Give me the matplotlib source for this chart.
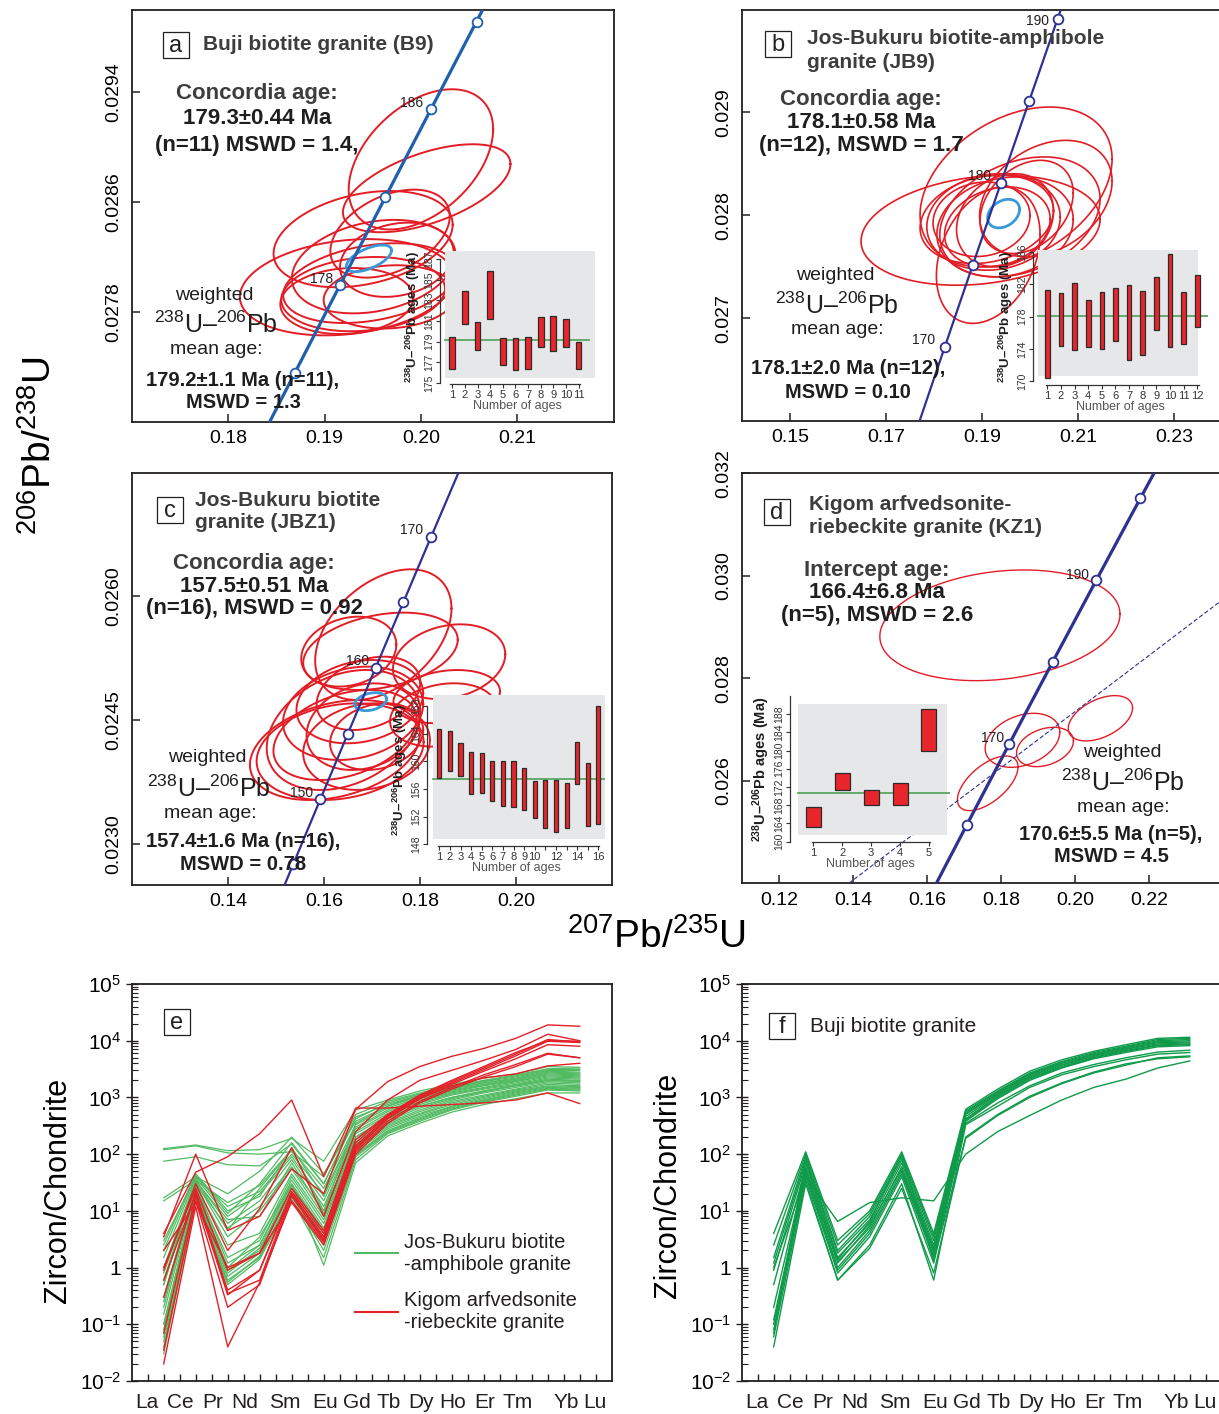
import numpy as np
import matplotlib
matplotlib.use("Agg")
import matplotlib.pyplot as plt
from matplotlib.patches import Rectangle
from matplotlib.ticker import LogLocator, NullFormatter

plt.rcParams['font.family'] = ['Liberation Sans', 'DejaVu Sans']
plt.rcParams['mathtext.fontset'] = 'custom'
plt.rcParams['mathtext.rm'] = 'Liberation Sans'
plt.rcParams['mathtext.it'] = 'Liberation Sans:italic'
plt.rcParams['mathtext.bf'] = 'Liberation Sans:bold'

W, H = 1219, 1414
fig = plt.figure(figsize=(W / 100, H / 100), dpi=100)

# decay constants, 1/Ma
L238 = 1.55125e-4
L235 = 9.8485e-4

RED = '#e21d25'
BLUE_ELL = '#3a9ad9'
GRAY = '#e6e7e8'
BAR = '#e8252b'
MEAN_LINE = '#5aa764'
DARK = '#3d3d3d'
INK = '#1e1e1e'

# ---------------- U-Pb spot ellipses: centre, 2s half-widths, rho ----------------
# (a) Buji biotite granite B9
a_x = [0.2000, 0.2006, 0.1940, 0.1923, 0.1975, 0.1951, 0.1940, 0.1968, 0.1923, 0.1968, 0.1947]
a_y = [0.02891, 0.02870, 0.02833, 0.02798, 0.02818, 0.02813, 0.02793, 0.02791, 0.02788, 0.02837, 0.02801]
a_sx = [0.0075, 0.0087, 0.0093, 0.0111, 0.0059, 0.0085, 0.0085, 0.0069, 0.0069, 0.0062, 0.0090]
a_sy = [0.00051, 0.00032, 0.00035, 0.00035, 0.00027, 0.00034, 0.00027, 0.00023, 0.00024, 0.00032, 0.00029]
a_rho = [0.43, 0.55, 0.30, 0.20, 0.20, 0.25, 0.15, 0.10, 0.10, 0.40, 0.30]
a_conc = (0.1946, 0.02819, 0.00235, 0.000097, 0.6)

# (b) Jos-Bukuru biotite-amphibole granite JB9
b_x = [0.1897, 0.1971, 0.1913, 0.2033, 0.1910, 0.1924, 0.1979, 0.1932, 0.1899, 0.1948, 0.1993, 0.1948]
b_y = [0.027854, 0.028275, 0.027612, 0.028162, 0.027961, 0.027935, 0.027984, 0.027887, 0.027961, 0.027951, 0.028081, 0.027887]
b_sx = [0.0249, 0.0200, 0.0108, 0.0138, 0.0139, 0.0139, 0.0167, 0.0110, 0.0101, 0.0101, 0.0097, 0.0142]
b_sy = [0.000534, 0.000777, 0.000663, 0.000566, 0.000430, 0.000469, 0.000583, 0.000388, 0.000362, 0.000453, 0.000453, 0.000485]
b_rho = [0.20, 0.35, 0.30, 0.30, 0.20, 0.10, 0.30, 0.20, 0.10, 0.20, 0.30, 0.15]
b_conc = (0.1945, 0.028016, 0.00333, 0.000139, 0.3)

# (c) Jos-Bukuru biotite granite JBZ1
c_x = [0.1723, 0.1717, 0.1860, 0.1651, 0.1674, 0.1660, 0.1622, 0.1633,
       0.1640, 0.1681, 0.1709, 0.1855, 0.1643, 0.1688, 0.1848, 0.1692]
c_y = [0.025535, 0.025333, 0.025207, 0.025329, 0.024722, 0.024581, 0.024136, 0.024116,
       0.024379, 0.024419, 0.024298, 0.024783, 0.024318, 0.024177, 0.024561, 0.024823]
c_sx = [0.0142, 0.0161, 0.0117, 0.0099, 0.0132, 0.0146, 0.0177, 0.0174,
        0.0160, 0.0118, 0.0097, 0.0111, 0.0149, 0.0132, 0.0111, 0.0108]
c_sy = [0.000792, 0.000469, 0.000453, 0.000424, 0.000505, 0.000566, 0.000606, 0.000586,
        0.000728, 0.000525, 0.000404, 0.000323, 0.000546, 0.000525, 0.000384, 0.000445]
c_rho = [0.40, 0.30, 0.20, 0.20, 0.20, 0.20, 0.30, 0.20, 0.30, 0.20, 0.20, 0.20, 0.35, 0.15, 0.20, 0.30]
c_conc = (0.16965, 0.024722, 0.00333, 0.000109, 0.3)

# (d) Kigom arfvedsonite-riebeckite granite KZ1
d_x = [0.1797, 0.1858, 0.1919, 0.2069, 0.1764]
d_y = [0.029034, 0.026790, 0.026660, 0.027220, 0.025951]
d_sx = [0.0325, 0.0101, 0.0077, 0.0087, 0.0082]
d_sy = [0.00108, 0.000527, 0.000384, 0.000442, 0.000533]
d_rho = [0.20, 0.30, 0.30, 0.45, 0.60]
d_intercept_age = 166.4
d_disc_slope = 0.0547

# concordia tick ages and labelled ones
a_ages, a_lab = [174, 178, 182, 186, 190], [178, 186]
b_ages, b_lab = [170, 175, 180, 185, 190], [170, 180, 190]
c_ages, c_lab = [145, 150, 155, 160, 165, 170], [150, 160, 170]
d_ages, d_lab = [160, 170, 180, 190, 200], [170, 190]

# ---------------- single-spot 238U-206Pb ages (2s range) ----------------
a_lo = [176.4, 180.7, 178.2, 181.2, 176.7, 176.3, 176.4, 178.5, 178.1, 178.5, 176.4]
a_hi = [179.5, 183.9, 180.9, 185.9, 179.4, 179.4, 179.5, 181.4, 181.5, 181.2, 179.0]
a_wm = 179.2
b_lo = [170.4, 174.4, 173.9, 174.2, 174.0, 175.0, 172.7, 173.3, 176.3, 174.2, 174.6, 176.7]
b_hi = [181.3, 181.0, 182.2, 180.1, 181.1, 181.6, 181.9, 181.2, 182.9, 185.8, 181.1, 183.2]
b_wm = 178.1
c_lo = [157.6, 158.6, 157.8, 155.3, 155.4, 154.2, 153.5, 153.4, 152.9, 151.8, 150.3, 149.8, 150.3, 156.7, 150.6, 151.0]
c_hi = [164.6, 164.4, 162.6, 161.4, 161.2, 160.0, 160.1, 160.0, 159.0, 157.1, 157.3, 157.3, 156.8, 162.8, 159.8, 168.0]
c_wm = 157.4
d_lo = [163.1, 171.4, 168.1, 168.1, 179.9]
d_hi = [167.5, 175.0, 171.4, 172.8, 189.2]
d_wm = 170.6

# ---------------- zircon REE / chondrite ----------------
ree = ['La', 'Ce', 'Pr', 'Nd', 'Sm', 'Eu', 'Gd', 'Tb', 'Dy', 'Ho', 'Er', 'Tm', 'Yb', 'Lu']
ree_lbl_x = [-0.53, 0.53, 1.53, 2.53, 3.78, 5.03, 6.03, 7.03, 8.03, 9.03, 10.03, 11.06, 12.59, 13.47]

jb_ree = [
    [125, 145, 115, 120, 190, 75, 600, 900, 1300, 1700, 2200, 2600, 3500, 3400],
    [120, 140, 105, 100, 110, 40, 500, 850, 1200, 1600, 2000, 2500, 3200, 3300],
    [75, 90, 65, 62, 150, 30, 420, 800, 1150, 1500, 1900, 2300, 3000, 3000],
    [17, 40, 20, 50, 200, 45, 380, 700, 1100, 1450, 1800, 2200, 2900, 2800],
    [15, 35, 14, 28, 120, 25, 330, 650, 1000, 1350, 1700, 2100, 2700, 2600],
    [3.0, 40, 12, 22, 100, 20, 300, 600, 950, 1300, 1650, 2000, 2600, 2500],
    [2.5, 45, 10, 18, 130, 18, 280, 560, 900, 1250, 1600, 1950, 2500, 2400],
    [1.5, 38, 8, 20, 90, 15, 250, 520, 850, 1200, 1500, 1900, 2400, 2300],
    [1.0, 35, 6, 15, 80, 12, 230, 480, 800, 1150, 1450, 1800, 2300, 2200],
    [0.8, 30, 5, 12, 60, 10, 200, 450, 750, 1100, 1400, 1700, 2200, 2100],
    [0.5, 32, 3.5, 10, 55, 8, 180, 420, 700, 1000, 1300, 1650, 2100, 2000],
    [0.3, 28, 2.5, 4, 45, 7, 160, 390, 650, 950, 1250, 1600, 2000, 1900],
    [0.25, 25, 1.5, 3, 40, 6, 150, 360, 600, 900, 1200, 1500, 1900, 1800],
    [0.2, 30, 1.2, 2.5, 35, 5, 140, 340, 560, 850, 1100, 1400, 1800, 1700],
    [0.15, 26, 1.0, 3.5, 30, 4.5, 130, 320, 520, 800, 1050, 1350, 1700, 1600],
    [0.1, 22, 0.9, 2.0, 28, 4, 120, 300, 500, 750, 1000, 1300, 1600, 1550],
    [0.08, 24, 0.8, 2.2, 25, 3.5, 110, 280, 470, 700, 950, 1250, 1550, 1500],
    [0.06, 20, 0.7, 1.8, 22, 3, 100, 260, 440, 680, 900, 1200, 1500, 1450],
    [0.05, 18, 0.6, 1.5, 20, 2.5, 95, 250, 420, 650, 880, 1150, 1450, 1400],
    [0.04, 17, 0.55, 1.6, 18, 2, 90, 240, 400, 620, 850, 1100, 1400, 1350],
    [0.03, 15, 0.5, 1.4, 16, 1.5, 80, 230, 380, 600, 820, 1050, 1350, 1300],
    [0.5, 35, 4.5, 25, 120, 10, 350, 700, 1050, 1400, 1800, 2100, 2800, 2700],
    [2.0, 42, 9, 30, 160, 30, 450, 750, 1100, 1500, 1950, 2400, 3100, 3100],
    [0.6, 33, 7, 8, 70, 9, 200, 450, 700, 1000, 1300, 1600, 2000, 1950],
    [0.1, 20, 0.9, 2.5, 30, 1.1, 70, 210, 350, 550, 750, 950, 1200, 1200],
]

kz_ree = [
    [0.02, 12, 0.04, 0.55, 15, 2.8, 110, 380, 850, 1500, 2500, 3800, 6000, 5000],
    [0.035, 15, 0.2, 0.5, 18, 3.0, 130, 430, 950, 1700, 2900, 4800, 8500, 8000],
    [0.07, 18, 0.33, 0.9, 20, 3.5, 140, 460, 1000, 1800, 3100, 5400, 9800, 9300],
    [0.6, 20, 0.4, 0.9, 22, 4.0, 160, 480, 1050, 1900, 3300, 5800, 10500, 9500],
    [1.0, 25, 0.9, 1.8, 25, 4.5, 180, 500, 1100, 2000, 3500, 6200, 10000, 9800],
    [2.0, 14, 1.0, 1.8, 14, 2.5, 100, 350, 800, 1400, 2300, 3500, 5800, 5000],
    [3.5, 100, 4.5, 8, 55, 20, 620, 1900, 3500, 5300, 7300, 11000, 19000, 18000],
    [4.0, 48, 90, 230, 900, 40, 650, 650, 700, 750, 800, 900, 1200, 780],
    [0.9, 30, 2.0, 11, 130, 8, 250, 900, 2000, 3000, 4500, 7000, 13000, 10000],
    [0.3, 22, 0.35, 0.6, 20, 3.2, 120, 420, 950, 1600, 2200, 2600, 3600, 4000],
]

buji_ree = [
    [4.0, 110, 3.0, 10, 110, 4.0, 620, 1400, 2900, 4600, 6500, 8500, 11000, 11500],
    [2.5, 100, 2.5, 9, 100, 3.5, 580, 1300, 2700, 4300, 6200, 8000, 10500, 11000],
    [1.5, 90, 2.0, 8, 90, 3.0, 550, 1250, 2600, 4100, 5900, 7700, 10000, 10500],
    [1.2, 80, 1.8, 7, 80, 2.5, 520, 1200, 2500, 4000, 5700, 7500, 9600, 10000],
    [0.9, 70, 1.5, 6, 70, 2.2, 500, 1150, 2400, 3800, 5500, 7200, 9200, 9500],
    [0.5, 60, 1.3, 5, 60, 2.0, 460, 1100, 2300, 3700, 5300, 7000, 8800, 9200],
    [0.2, 55, 1.2, 5.5, 55, 1.8, 420, 1050, 2200, 3500, 5100, 6700, 8400, 8800],
    [0.12, 50, 1.0, 4.5, 50, 1.6, 400, 1000, 2100, 3400, 5000, 6500, 8200, 8500],
    [0.1, 45, 0.9, 4, 45, 1.5, 380, 950, 2000, 3300, 4800, 6200, 7800, 8200],
    [0.08, 40, 0.8, 3.5, 40, 1.2, 350, 800, 1600, 2700, 3800, 5000, 6300, 6800],
    [0.06, 35, 0.6, 2.5, 30, 0.6, 330, 700, 1500, 2500, 3500, 4600, 5800, 6200],
    [0.04, 30, 0.6, 2.2, 25, 0.8, 200, 500, 1050, 1800, 2800, 3900, 4800, 5200],
    [1.0, 40, 6.5, 14, 17, 15, 100, 250, 480, 900, 1500, 2100, 3300, 4400],
    [0.07, 75, 1.4, 6.5, 95, 1.3, 190, 480, 1000, 1750, 2700, 3700, 5000, 5400],
]


def px_axes(x0, y0, x1, y1):
    return fig.add_axes([x0 / W, 1 - y1 / H, (x1 - x0) / W, (y1 - y0) / H])


def ftext(x, y, s, **kw):
    fig.text(x / W, 1 - y / H, s, **kw)


def letter_box(x0, y0, x1, y1, s):
    fig.add_artist(Rectangle((x0 / W, 1 - y1 / H), (x1 - x0) / W, (y1 - y0) / H,
                             transform=fig.transFigure, fill=False, lw=0.9, ec='#231f20'))
    ftext((x0 + x1) / 2, (y0 + y1) / 2 + 1, s, ha='center', va='center', fontsize=17, color='#231f20')


def concordia(t):
    t = np.asarray(t, float)
    return np.expm1(L235 * t), np.expm1(L238 * t)


def ell_xy(x, y, sx, sy, rho):
    th = np.linspace(0, 2 * np.pi, 181)
    return x + sx * np.cos(th), y + sy * (rho * np.cos(th) + np.sqrt(1 - rho ** 2) * np.sin(th))


def conc_panel(box, xlim, ylim, xticks, yticks, yfmt, ell, conc_ell, ages, lab_ages,
               line_col, line_w, ell_w, lab_off):
    ax = px_axes(*box)
    ax.set_xlim(xlim)
    ax.set_ylim(ylim)
    for x, y, sx, sy, r in zip(*ell):
        ex, ey = ell_xy(x, y, sx, sy, r)
        ax.plot(ex, ey, color=RED, lw=ell_w, zorder=2)
    if conc_ell is not None:
        ex, ey = ell_xy(*conc_ell)
        ax.plot(ex, ey, color=BLUE_ELL, lw=2.0, zorder=3)
    cx, cy = concordia(np.linspace(80, 280, 400))
    ax.plot(cx, cy, color=line_col, lw=line_w, zorder=4)
    mx, my = concordia(ages)
    ax.plot(mx, my, 'o', ms=7, mfc='white', mec=line_col, mew=1.3, zorder=5)
    for t in lab_ages:
        px_, py_ = concordia(t)
        off = lab_off.get(t, (-19, 6))
        ax.annotate(str(t), (px_, py_), xytext=off, textcoords='offset pixels',
                    ha='center', va='center', fontsize=10, color='#231f20', zorder=6)
    ax.set_xticks(xticks)
    ax.set_xticklabels(['%.2f' % v for v in xticks])
    ax.set_yticks(yticks)
    ax.set_yticklabels([yfmt % v for v in yticks], rotation=90, va='center')
    ax.tick_params(direction='in', length=6, width=1.1, labelsize=14, color='#231f20')
    ax.tick_params(axis='x', pad=6)
    ax.tick_params(axis='y', pad=7)
    for s in ax.spines.values():
        s.set_linewidth(1.3)
        s.set_color('#231f20')
    return ax


def age_inset(box, xlim, ylim, gray, lo, hi, wm, bar_w, yticks, xticks, xlabels,
              ybounds, xbounds, line_x, ylab_size=9.5):
    ax = px_axes(*box)
    ax.patch.set_visible(False)
    ax.set_xlim(xlim)
    ax.set_ylim(ylim)
    gx0, gx1, gy0, gy1 = gray
    ax.add_patch(Rectangle((gx0, gy0), gx1 - gx0, gy1 - gy0, fc=GRAY, ec='none', zorder=0))
    n = np.arange(1, len(lo) + 1)
    ax.bar(n, np.subtract(hi, lo), bottom=lo, width=bar_w, color=BAR,
           edgecolor='#2b2b2b', lw=0.9, zorder=2)
    ax.plot(line_x, [wm, wm], color=MEAN_LINE, lw=1.3, zorder=1)
    for s in ('top', 'right'):
        ax.spines[s].set_visible(False)
    ax.spines['left'].set_bounds(*ybounds)
    ax.spines['bottom'].set_bounds(*xbounds)
    for s in ('left', 'bottom'):
        ax.spines[s].set_linewidth(0.9)
        ax.spines[s].set_color('#333333')
    ax.set_yticks(yticks)
    ax.set_yticklabels([str(v) for v in yticks], rotation=90, va='center')
    ax.set_xticks(xticks)
    ax.set_xticklabels(xlabels)
    ax.tick_params(axis='y', direction='out', length=3, width=0.8, labelsize=7.5, pad=1, colors='#333333')
    ax.tick_params(axis='x', direction='out', length=3, width=0.8, labelsize=8, pad=1, colors='#333333')
    ax.set_ylabel(r'$^{\mathbf{238}}$U–$^{\mathbf{206}}$Pb ages (Ma)', fontsize=ylab_size,
                  fontweight='bold', labelpad=2, color='#1e1e1e')
    ax.set_xlabel('Number of ages', fontsize=9, labelpad=0, color='#555555')
    return ax


def txt_bold(x, y, s, size=16, color=INK):
    ftext(x, y, s, ha='center', va='center', fontsize=size, fontweight='bold', color=color)


def txt(x, y, s, size=14):
    ftext(x, y, s, ha='center', va='center', fontsize=size, color='#1e1e1e')


# ---------------- (a) ----------------
conc_panel((132, 9.5, 613.5, 422), (0.17, 0.22), (0.0270, 0.0300),
           [0.18, 0.19, 0.20, 0.21], [0.0278, 0.0286, 0.0294], '%.4f',
           (a_x, a_y, a_sx, a_sy, a_rho), a_conc, a_ages, a_lab,
           '#1f5fae', 2.3, 1.4, {})
age_inset((440, 251, 595, 384), (0.03, 12.3), (174.9, 187.8), (0.42, 12.3, 175.5, 187.8),
          a_lo, a_hi, a_wm, 0.45, list(range(175, 188, 2)), list(range(1, 12)),
          [str(v) for v in range(1, 12)], (175, 187), (0.85, 11.1), [0.42, 11.8])
letter_box(163, 32, 189, 58, 'a')
ftext(203, 45, 'Buji biotite granite (B9)', ha='left', va='center', fontsize=15,
      fontweight='bold', color=DARK)
txt_bold(257, 93, 'Concordia age:', color=DARK)
txt_bold(257, 119, '179.3±0.44 Ma')
txt_bold(257, 145, '(n=11) MSWD = 1.4,')
txt(214, 295, 'weighted')
txt(216, 325, r'$^{238}$U–$^{206}$Pb', size=18)
txt(216, 350, 'mean age:')
txt_bold(243, 380, '179.2±1.1 Ma (n=11),', size=14.5)
txt_bold(243, 403, 'MSWD = 1.3', size=14.5)

# ---------------- (b) ----------------
conc_panel((742, 9.5, 1222, 421), (0.14, 0.24), (0.026, 0.030),
           [0.15, 0.17, 0.19, 0.21, 0.23], [0.027, 0.028, 0.029], '%.3f',
           (b_x, b_y, b_sx, b_sy, b_rho), b_conc, b_ages, b_lab,
           '#2e3192', 1.6, 1.2, {190: (-20, -2), 180: (-21, 7), 170: (-21, 7)})
age_inset((1033, 250, 1208, 385), (-0.05, 12.79), (169.54, 186.27), (0.29, 12.07, 170.7, 186.27),
          b_lo, b_hi, b_wm, 0.34, [170, 174, 178, 182, 186], list(range(1, 13)),
          [str(v) for v in range(1, 13)], (170, 186), (0.9, 12.1), [0.29, 12.79])
letter_box(765, 31, 791, 57, 'b')
ftext(807, 38, 'Jos-Bukuru biotite-amphibole', ha='left', va='center', fontsize=15,
      fontweight='bold', color=DARK)
ftext(807, 62, 'granite (JB9)', ha='left', va='center', fontsize=15,
      fontweight='bold', color=DARK)
txt_bold(861, 99, 'Concordia age:', color=DARK)
txt_bold(861, 123, '178.1±0.58 Ma')
txt_bold(861, 146, '(n=12), MSWD = 1.7')
txt(835, 276, 'weighted')
txt(837, 306, r'$^{238}$U–$^{206}$Pb', size=18)
txt(837, 330, 'mean age:')
txt_bold(848, 368, '178.1±2.0 Ma (n=12),', size=14.5)
txt_bold(848, 392, 'MSWD = 0.10', size=14.5)

# ---------------- (c) ----------------
conc_panel((132.3, 472.6, 612.3, 884.9), (0.12, 0.22), (0.0225, 0.0275),
           [0.14, 0.16, 0.18, 0.20], [0.0230, 0.0245, 0.0260], '%.4f',
           (c_x, c_y, c_sx, c_sy, c_rho), c_conc, c_ages, c_lab,
           '#2e3192', 1.6, 1.4, {170: (-20, 7), 160: (-18, 7), 150: (-19, 6)})
c_xlab = [str(v) if (v <= 10 or v % 2 == 0) else '' for v in range(1, 17)]
age_inset((427, 695, 605, 846), (-0.16, 16.63), (147.77, 169.56), (0.41, 16.63, 148.8, 169.56),
          c_lo, c_hi, c_wm, 0.38, [148, 152, 156, 160, 164, 168], list(range(1, 17)),
          c_xlab, (148, 168), (0.9, 16.1), [0.41, 16.63])
letter_box(157, 497, 183, 523, 'c')
ftext(195, 501, 'Jos-Bukuru biotite', ha='left', va='center', fontsize=15,
      fontweight='bold', color=DARK)
ftext(195, 523, 'granite (JBZ1)', ha='left', va='center', fontsize=15,
      fontweight='bold', color=DARK)
txt_bold(254, 563, 'Concordia age:', color=DARK)
txt_bold(254, 586, '157.5±0.51 Ma')
txt_bold(254, 609, '(n=16), MSWD = 0.92')
txt(207, 758, 'weighted')
txt(209, 789, r'$^{238}$U–$^{206}$Pb', size=18)
txt(210, 813, 'mean age:')
txt_bold(243, 841, '157.4±1.6 Ma (n=16),', size=14.5)
txt_bold(243, 864, 'MSWD = 0.78', size=14.5)

# ---------------- (d) ----------------
axd = conc_panel((742.4, 473.3, 1222.7, 883.3), (0.11, 0.24), (0.024, 0.032),
                 [0.12, 0.14, 0.16, 0.18, 0.20, 0.22], [0.026, 0.028, 0.030, 0.032], '%.3f',
                 (d_x, d_y, d_sx, d_sy, d_rho), None, d_ages, d_lab,
                 '#2e3192', 2.3, 1.0, {190: (-19, 5), 170: (-17, 6)})
ix, iy = concordia(d_intercept_age)
dx = np.array(axd.get_xlim())
axd.plot(dx, iy + d_disc_slope * (dx - ix), color='#2e3192', lw=0.8,
         ls=(0, (4, 2)), zorder=3)
age_inset((790, 696, 950, 842), (0.19, 5.73), (159.9, 192.0), (0.46, 5.61, 161.4, 190.3),
          d_lo, d_hi, d_wm, 0.52, list(range(160, 189, 4)), list(range(1, 6)),
          [str(v) for v in range(1, 6)], (160, 192), (0.95, 5.05), [0.46, 5.73], ylab_size=10.5)
letter_box(764, 499, 790, 525, 'd')
ftext(809, 504, 'Kigom arfvedsonite-', ha='left', va='center', fontsize=15,
      fontweight='bold', color=DARK)
ftext(809, 527, 'riebeckite granite (KZ1)', ha='left', va='center', fontsize=15,
      fontweight='bold', color=DARK)
txt_bold(877, 570, 'Intercept age:', color=DARK)
txt_bold(877, 593, '166.4±6.8 Ma')
txt_bold(877, 616, '(n=5), MSWD = 2.6')
txt(1122, 752, 'weighted')
txt(1123, 783, r'$^{238}$U–$^{206}$Pb', size=18)
txt(1123, 808, 'mean age:')
txt_bold(1111, 835, '170.6±5.5 Ma (n=5),', size=14.5)
txt_bold(1111, 857, 'MSWD = 4.5', size=14.5)

# shared axis titles of the concordia diagrams
ftext(40, 445, r'$^{206}$Pb/$^{238}$U', rotation=90, ha='center', va='center', fontsize=28)
ftext(657, 937, r'$^{207}$Pb/$^{235}$U', ha='center', va='center', fontsize=28)


# ---------------- REE patterns ----------------
def ree_panel(box, groups):
    ax = px_axes(*box)
    ax.set_yscale('log')
    ax.set_ylim(1e-2, 1e5)
    ax.set_xlim(-1, 14)
    idx = np.arange(len(ree))
    for rows, col, lw in groups:
        for r in rows:
            ax.plot(idx, r, color=col, lw=lw)
    ax.set_xticks(np.arange(-0.5, 14, 0.5))
    ax.set_xticklabels([])
    ax.tick_params(axis='x', direction='in', length=5, width=1.0, color='#231f20')
    trans = ax.get_xaxis_transform()
    for p, s in zip(ree_lbl_x, ree):
        ax.text(p, -0.055, s, transform=trans, ha='center', va='center', fontsize=15, color='#231f20')
    majors = [10.0 ** k for k in range(-2, 6)]
    ax.set_yticks(majors)
    ax.set_yticklabels([r'$10^{-2}$', r'$10^{-1}$', '1', r'$10^{1}$', r'$10^{2}$',
                        r'$10^{3}$', r'$10^{4}$', r'$10^{5}$'])
    ax.yaxis.set_minor_locator(LogLocator(base=10, subs=np.arange(2, 10)))
    ax.yaxis.set_minor_formatter(NullFormatter())
    ax.tick_params(axis='y', which='major', direction='inout', length=9, width=1.0,
                   labelsize=15, pad=3, color='#231f20')
    ax.tick_params(axis='y', which='minor', direction='in', length=4, width=0.8, color='#231f20')
    for s in ax.spines.values():
        s.set_linewidth(1.3)
        s.set_color('#231f20')
    return ax


ree_panel((131.7, 984, 611.7, 1381), [(jb_ree, '#52bb62', 0.9), (kz_ree, '#e41f27', 1.0)])
letter_box(164, 1009, 190, 1035, 'e')
# legend of panel e
fig.add_artist(plt.Line2D([355 / W, 398 / W], [1 - 1253 / H, 1 - 1253 / H], color='#52bb62', lw=1.5))
fig.add_artist(plt.Line2D([355 / W, 398 / W], [1 - 1312 / H, 1 - 1312 / H], color='#e41f27', lw=1.5))
ftext(404, 1253, 'Jos-Bukuru biotite\n-amphibole granite', ha='left', va='center',
      fontsize=14.5, linespacing=1.2, color='#231f20')
ftext(404, 1312, 'Kigom arfvedsonite\n-riebeckite granite', ha='left', va='center',
      fontsize=14.5, linespacing=1.2, color='#231f20')
ftext(58, 1190, 'Zircon/Chondrite', rotation=90, ha='center', va='center', fontsize=22)

ree_panel((741.7, 984, 1221.7, 1381), [(buji_ree, '#0f9a4a', 1.0)])
letter_box(769, 1013, 795, 1039, 'f')
ftext(810, 1026, 'Buji biotite granite', ha='left', va='center', fontsize=15, color='#231f20')
ftext(668, 1185, 'Zircon/Chondrite', rotation=90, ha='center', va='center', fontsize=22)

fig.savefig('out.png', dpi=100)
